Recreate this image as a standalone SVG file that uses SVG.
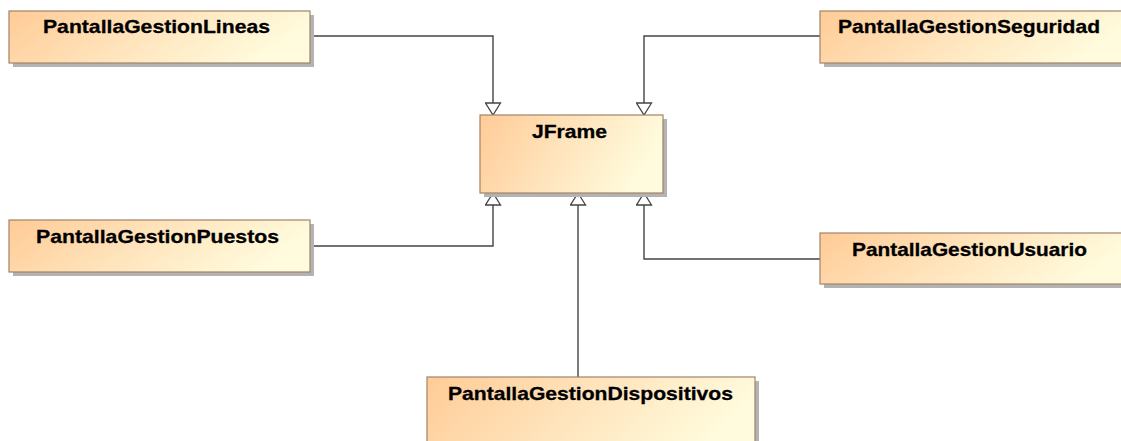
<svg xmlns="http://www.w3.org/2000/svg" width="1121" height="441" viewBox="0 0 1121 441">
<style>
.shadow{fill:#b3b3b3}
.box{fill:url(#g);stroke:#a0846a;stroke-width:1.2}
.lbl{font-family:"Liberation Sans",Arial,sans-serif;font-weight:bold;font-size:18.5px;fill:#000;stroke:#000;stroke-width:0.3}
.conn{fill:none;stroke:#444;stroke-width:1.4;marker-end:url(#tri)}
</style>
<defs>
<linearGradient id="g" x1="0" y1="0" x2="1" y2="0.25">
<stop offset="0" stop-color="#ffcb96"/>
<stop offset="0.5" stop-color="#ffe3bb"/>
<stop offset="1" stop-color="#fffbdc"/>
</linearGradient>
<marker id="tri" viewBox="-1 -1 14 17" refX="12" refY="7.5" markerWidth="14" markerHeight="17" orient="auto" markerUnits="userSpaceOnUse">
<path d="M0,0 L12,7.5 L0,15 Z" fill="#fff" stroke="#444" stroke-width="1.3"/>
</marker>
</defs>
<rect width="1121" height="441" fill="#fff"/>
<g id="connectors">
<path class="conn" d="M310,36 H493 V115"/>
<path class="conn" d="M820,36 H644 V115"/>
<path class="conn" d="M310,246 H493 V193"/>
<path class="conn" d="M820,259 H644 V193"/>
<path class="conn" d="M578,377 V193"/>
</g>
<g id="JFrame">
<rect class="shadow" x="484" y="119" width="183" height="78"/>
<rect class="box" x="480" y="115" width="183" height="78"/>
<text class="lbl" x="532" y="138" textLength="75" lengthAdjust="spacingAndGlyphs">JFrame</text>
</g>
<g id="PantallaGestionLineas">
<rect class="shadow" x="13" y="15" width="301" height="52"/>
<rect class="box" x="9" y="11" width="301" height="52"/>
<text class="lbl" x="43" y="33" textLength="227" lengthAdjust="spacingAndGlyphs">PantallaGestionLineas</text>
</g>
<g id="PantallaGestionSeguridad">
<rect class="shadow" x="824" y="15" width="310" height="52"/>
<rect class="box" x="820" y="11" width="310" height="52"/>
<text class="lbl" x="838" y="33" textLength="262" lengthAdjust="spacingAndGlyphs">PantallaGestionSeguridad</text>
</g>
<g id="PantallaGestionPuestos">
<rect class="shadow" x="13" y="224" width="301" height="52"/>
<rect class="box" x="9" y="220" width="301" height="52"/>
<text class="lbl" x="36" y="243" textLength="243" lengthAdjust="spacingAndGlyphs">PantallaGestionPuestos</text>
</g>
<g id="PantallaGestionUsuario">
<rect class="shadow" x="824" y="237" width="310" height="51"/>
<rect class="box" x="820" y="233" width="310" height="51"/>
<text class="lbl" x="852" y="256" textLength="235" lengthAdjust="spacingAndGlyphs">PantallaGestionUsuario</text>
</g>
<g id="PantallaGestionDispositivos">
<rect class="shadow" x="431" y="381" width="328" height="80"/>
<rect class="box" x="427" y="377" width="328" height="80"/>
<text class="lbl" x="448" y="400" textLength="285" lengthAdjust="spacingAndGlyphs">PantallaGestionDispositivos</text>
</g>
</svg>
